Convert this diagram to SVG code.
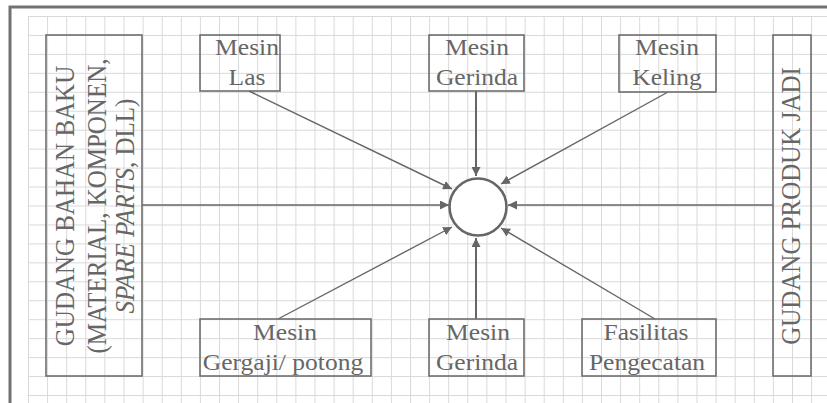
<svg xmlns="http://www.w3.org/2000/svg" width="827" height="403" viewBox="0 0 827 403">
<defs>
<pattern id="grid" x="28" y="16" width="19.1" height="18.95" patternUnits="userSpaceOnUse">
<path d="M0.5,0 V18.95 M0,0.5 H19.1" fill="none" stroke="#d9d9d9" stroke-width="1"/>
</pattern>
<marker id="ah" viewBox="0 0 10 10" refX="10" refY="5" markerWidth="9" markerHeight="9" markerUnits="userSpaceOnUse" orient="auto">
<path d="M0,0 L10,5 L0,10 z" fill="#666"/>
</marker>
<style>
.box{fill:none;stroke:#6e6e6e;stroke-width:1.6}
.t{font-family:"Liberation Serif","Times New Roman",serif;font-size:23px;fill:#666;text-anchor:middle}
.tv{font-family:"Liberation Serif","Times New Roman",serif;font-size:25px;fill:#666;text-anchor:middle}
.c{fill:none;stroke:#666;stroke-width:1.4;marker-end:url(#ah)}
</style>
</defs>
<rect x="0" y="0" width="827" height="403" fill="#fff"/>
<rect x="28" y="16" width="800" height="390" fill="url(#grid)"/>
<rect x="10" y="7" width="840" height="420" fill="none" stroke="#727272" stroke-width="3"/>

<g id="connectors">
<line class="c" x1="249" y1="91" x2="452" y2="189"/>
<line class="c" x1="476" y1="91" x2="476" y2="176" style="stroke-width:2"/>
<line class="c" x1="668" y1="92" x2="501" y2="184"/>
<line class="c" x1="142" y1="205" x2="449" y2="205"/>
<line class="c" x1="773" y1="205" x2="508" y2="205"/>
<line class="c" x1="278" y1="319" x2="452" y2="227"/>
<line class="c" x1="476" y1="319" x2="476" y2="238" style="stroke-width:2"/>
<line class="c" x1="655" y1="319" x2="501" y2="228"/>
</g>

<g id="hub">
<circle cx="478" cy="207" r="28.5" fill="#fff" stroke="#666" stroke-width="2.6"/>
</g>

<g id="gudang-bahan-baku">
<rect class="box" x="46" y="35" width="96" height="341" fill="#fff"/>
<text class="tv" transform="translate(74,206) scale(1.08,1) rotate(-90)">GUDANG BAHAN BAKU</text>
<text class="tv" transform="translate(106,206) scale(1.08,1) rotate(-90)">(MATERIAL, KOMPONEN,</text>
<text class="tv" transform="translate(134,206) scale(1.08,1) rotate(-90)"><tspan font-style="italic">SPARE PARTS</tspan>, DLL)</text>
</g>

<g id="gudang-produk-jadi">
<rect class="box" x="773" y="35" width="38" height="341"/>
<text class="tv" transform="translate(800,206) scale(1.08,1) rotate(-90)">GUDANG PRODUK JADI</text>
</g>

<g id="mesin-las">
<rect class="box" x="200" y="35" width="80" height="56"/>
<text class="t" transform="translate(247,55) scale(1.11,1)">Mesin</text>
<text class="t" transform="translate(247,85) scale(1.11,1)">Las</text>
</g>

<g id="mesin-gerinda-atas">
<rect class="box" x="429" y="35" width="95" height="56"/>
<text class="t" transform="translate(477,55) scale(1.11,1)">Mesin</text>
<text class="t" transform="translate(477,85) scale(1.11,1)">Gerinda</text>
</g>

<g id="mesin-keling">
<rect class="box" x="619" y="35" width="97" height="57"/>
<text class="t" transform="translate(667,55) scale(1.11,1)">Mesin</text>
<text class="t" transform="translate(667,85) scale(1.11,1)">Keling</text>
</g>

<g id="mesin-gergaji">
<rect class="box" x="200" y="319" width="171" height="57"/>
<text class="t" transform="translate(285,340) scale(1.11,1)">Mesin</text>
<text class="t" transform="translate(283,370) scale(1.11,1)">Gergaji/ potong</text>
</g>

<g id="mesin-gerinda-bawah">
<rect class="box" x="429" y="319" width="95" height="57"/>
<text class="t" transform="translate(478,340) scale(1.11,1)">Mesin</text>
<text class="t" transform="translate(477,370) scale(1.11,1)">Gerinda</text>
</g>

<g id="fasilitas-pengecatan">
<rect class="box" x="582" y="319" width="134" height="57"/>
<text class="t" transform="translate(646,340) scale(1.11,1)">Fasilitas</text>
<text class="t" transform="translate(647,370) scale(1.11,1)">Pengecatan</text>
</g>
</svg>
